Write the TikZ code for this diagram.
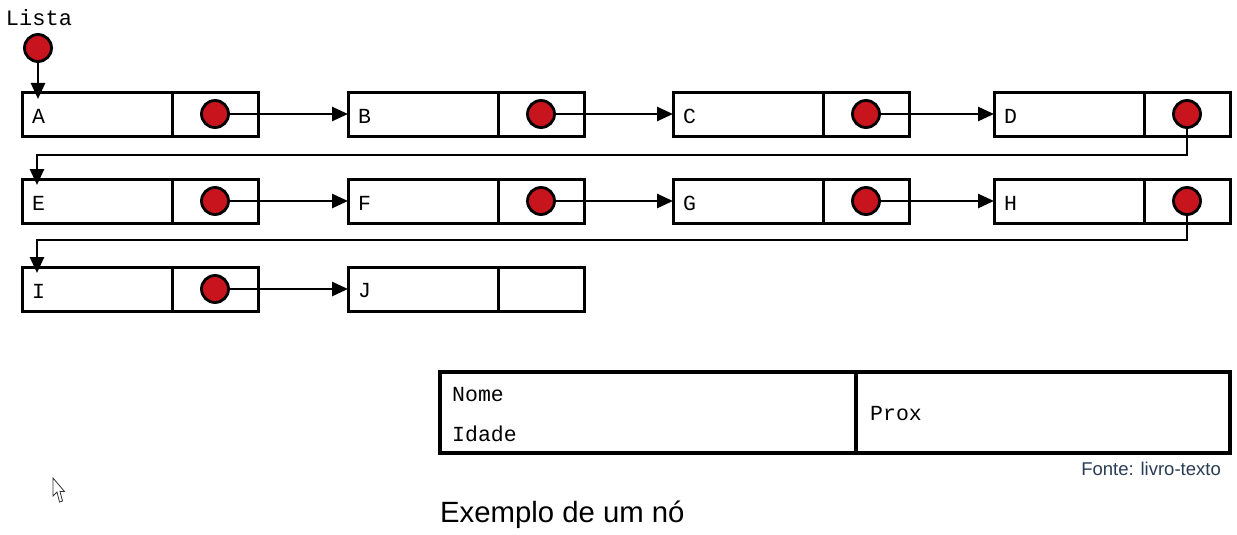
\documentclass[tikz,border=0pt]{standalone}
\usepackage{fontspec}
\setmainfont{Liberation Sans}
\newfontfamily\mono{Liberation Mono}
\usetikzlibrary{arrows.meta}
\definecolor{pred}{RGB}{200,20,28}
\definecolor{fonteblue}{RGB}{40,60,85}
\begin{document}
\begin{tikzpicture}[x=1pt,y=-1pt,
  cell/.style={draw, line width=3pt, minimum height=44pt, inner sep=0pt, outer sep=0pt},
  namecell/.style={cell, minimum width=150pt},
  ptrcell/.style={cell, minimum width=86pt},
  ptr/.style={circle, draw, fill=pred, line width=2.8pt, minimum size=27pt, inner sep=0pt},
  lbl/.style={font=\mono\fontsize{21.5}{21.5}\selectfont, inner sep=0pt, anchor=west},
  link/.style={line width=2.6pt, -{Triangle[length=16pt,width=14pt]}},
  bigcell/.style={draw, line width=3.6pt, minimum height=81pt, inner sep=0pt, outer sep=0pt}]
\useasboundingbox (0,0) rectangle (1237,535);
% list nodes
\foreach \n/\x/\y in {A/22/114, B/348/114, C/673/114, D/994/114,
                      E/22/201, F/348/201, G/673/201, H/994/201,
                      I/22/289, J/348/289} {
  \node[namecell] (\n d) at (\x+75,\y) {};
  \node[ptrcell] (\n p) at (\x+193,\y) {};
  \node[lbl] (\n t) at (\x+10,\y+2) {\n};
}
% connectors
\foreach \a/\b in {A/B, B/C, C/D, E/F, F/G, G/H, I/J} {
  \draw[link] (\a p.center) ++(14pt,0) -- (\b d.west);
}
\coordinate (k1) at (37,155);
\coordinate (k2) at (37,240);
\draw[link] (Dp.center) |- (k1) -- ([xshift=15pt,yshift=-6pt]Ed.north west);
\draw[link] (Hp.center) |- (k2) -- ([xshift=15pt,yshift=-6pt]Id.north west);
% pointer circles
\foreach \n in {A,B,C,D,E,F,G,H,I} {
  \node[ptr] (\n c) at (\n p) {};
}
% head pointer
\node[font=\mono\fontsize{22}{22}\selectfont, inner sep=0pt] (lt) at (39,18) {Lista};
\node[ptr] (L) at (38,48) {};
\draw[link] (L) -- ([xshift=16pt,yshift=-7pt]Ad.north west);
% example node
\node[bigcell, minimum width=416pt] (bn) at (648,412.5) {};
\node[bigcell, minimum width=374pt] (bp) at (1043,412.5) {};
\node[lbl, anchor=base west] (nome) at (452,401) {Nome};
\node[lbl, anchor=base west] (idade) at (452,441) {Idade};
\node[lbl, anchor=base west] (prox) at (870,420) {Prox};
\node[anchor=base east, font=\fontsize{18.5}{18.5}\selectfont, text=fonteblue, inner sep=0pt] (fonte) at (1221,475) {Fonte: livro-texto};
\node[anchor=base west, font=\fontsize{29.3}{29.3}\selectfont, inner sep=0pt] (ex) at (440,522) {Exemplo de um nó};
% mouse cursor
\draw[line width=0.8pt, fill=white, line join=miter, draw=black!80]
  (53,478) -- (53,496) -- (57,492) -- (59.5,502) -- (62.5,501) -- (60,491.5) -- (64.5,491.5) -- cycle;
\end{tikzpicture}
\end{document}
